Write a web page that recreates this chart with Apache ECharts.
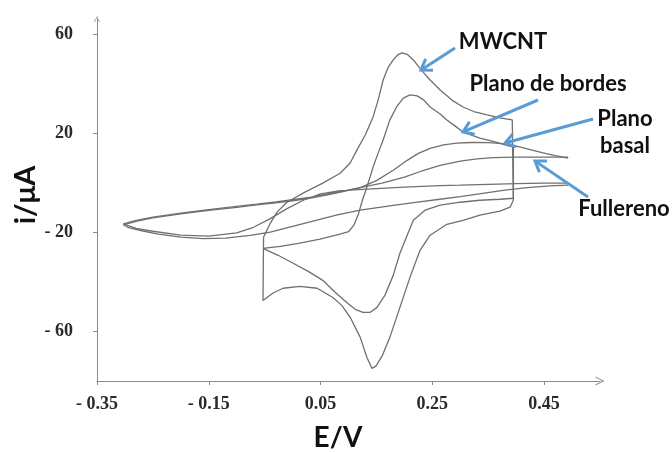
<!DOCTYPE html>
<html>
<head>
<meta charset="utf-8">
<script src="https://cdn.jsdelivr.net/npm/echarts@6/dist/echarts.min.js"></script>
<style>
  html, body { margin: 0; padding: 0; background: #fff; }
  #chart { width: 672px; height: 452px; }
</style>
</head>
<body>
<div id="chart"></div>
<script>
// Axis ticks (potential in V, current in µA)
const xTicks = [-0.35, -0.15, 0.05, 0.25, 0.45];
const yTicks = [-60, -20, 20, 60];

// Cyclic voltammograms, [E (V), i (µA)] around each closed loop
const mwcnt = [
  [-0.052, -22.0], [-0.040, -16.4], [-0.028, -11.9], [-0.010, -7.9], [0.022, -3.8],
  [0.054, -0.2], [0.085, 3.8], [0.103, 7.9], [0.115, 13.1], [0.130, 19.2],
  [0.144, 26.5], [0.153, 33.3], [0.162, 41.4], [0.171, 46.5], [0.180, 49.5],
  [0.188, 51.5], [0.196, 52.3], [0.206, 51.6], [0.216, 49.5], [0.230, 45.5],
  [0.246, 41.4], [0.264, 37.4], [0.285, 33.3], [0.305, 30.5], [0.326, 28.5],
  [0.348, 27.3], [0.371, 26.1], [0.393, 25.3],
  [0.395, -7.1], [0.389, -9.9], [0.371, -11.5], [0.335, -13.1], [0.305, -15.2],
  [0.276, -16.8], [0.246, -21.2], [0.228, -27.3], [0.210, -38.2], [0.192, -50.3],
  [0.174, -62.4], [0.160, -70.0], [0.149, -74.0], [0.142, -74.9], [0.133, -70.5],
  [0.121, -62.4], [0.103, -54.3], [0.088, -49.5], [0.072, -46.3], [0.044, -42.6],
  [0.013, -41.8], [-0.017, -42.6], [-0.035, -44.5], [-0.053, -47.5], [-0.052, -22.0]
];

const planoBordes = [
  [-0.053, -26.5], [-0.022, -25.7], [0.013, -24.4], [0.049, -22.8], [0.085, -20.8],
  [0.100, -19.8], [0.110, -17.0], [0.118, -12.5], [0.125, -7.0], [0.133, -1.8],
  [0.144, 6.3], [0.153, 11.9], [0.162, 17.2], [0.174, 25.3], [0.187, 30.9],
  [0.198, 34.1], [0.210, 35.4], [0.223, 35.0], [0.235, 33.3], [0.246, 30.5],
  [0.264, 27.7], [0.276, 25.3], [0.291, 22.8], [0.305, 20.4], [0.335, 18.0],
  [0.362, 16.4], [0.380, 15.2], [0.395, 14.3],
  [0.395, -6.3], [0.371, -6.7], [0.335, -7.1], [0.300, -7.9], [0.264, -9.1],
  [0.237, -11.1], [0.216, -15.2], [0.205, -21.2], [0.192, -28.5], [0.180, -37.4],
  [0.165, -45.5], [0.151, -50.3], [0.139, -52.3], [0.126, -52.3], [0.112, -51.1],
  [0.099, -48.7], [0.076, -44.2], [0.054, -39.4], [0.028, -35.8], [0.001, -32.5],
  [-0.026, -29.3], [-0.053, -26.5]
];

// Wide-window electrodes: forward (anodic) and reverse (cathodic) sweeps
const basalForward = [
  [-0.303, -17.0], [-0.28, -15.6], [-0.25, -14.2], [-0.20, -12.6], [-0.15, -11.2],
  [-0.10, -10.0], [-0.064, -9.0], [-0.03, -8.2], [0.00, -7.3], [0.03, -6.3],
  [0.06, -5.0], [0.09, -3.6], [0.121, -2.0], [0.15, 0.8], [0.18, 5.0],
  [0.205, 9.0], [0.225, 11.8], [0.246, 13.8], [0.27, 15.2], [0.294, 15.9],
  [0.32, 16.2], [0.35, 16.1], [0.377, 15.7], [0.395, 15.0], [0.42, 13.6],
  [0.448, 12.0], [0.47, 10.9], [0.493, 9.9]
];
const basalReverse = [
  [0.493, -1.0], [0.46, -1.3], [0.42, -2.0], [0.38, -3.0], [0.34, -4.3],
  [0.30, -5.6], [0.26, -6.8], [0.22, -8.0], [0.18, -9.2], [0.121, -11.1],
  [0.08, -13.0], [0.04, -15.3], [0.00, -17.6], [-0.04, -20.0], [-0.076, -21.3],
  [-0.12, -22.4], [-0.16, -22.6], [-0.20, -22.0], [-0.24, -20.8], [-0.27, -19.4],
  [-0.295, -18.0], [-0.303, -17.0]
];

const fullerenoForward = [
  [-0.303, -16.6], [-0.28, -15.2], [-0.25, -13.9], [-0.20, -12.3], [-0.15, -10.9],
  [-0.10, -9.6], [-0.064, -8.7], [-0.03, -7.8], [0.00, -6.9], [0.03, -5.9],
  [0.06, -4.7], [0.09, -3.4], [0.121, -2.0], [0.16, -0.2], [0.20, 2.2],
  [0.23, 4.6], [0.264, 7.0], [0.30, 8.7], [0.33, 9.6], [0.359, 10.1],
  [0.40, 10.3], [0.45, 10.3], [0.493, 10.3]
];
const fullerenoReverse = [
  [0.493, -0.2], [0.45, -0.2], [0.40, -0.4], [0.35, -0.7], [0.30, -1.0],
  [0.264, -1.2], [0.20, -1.8], [0.15, -2.4], [0.085, -3.2], [0.05, -4.5],
  [0.02, -7.0], [-0.01, -10.5], [-0.04, -14.5], [-0.07, -18.0], [-0.10, -20.3],
  [-0.15, -21.6], [-0.20, -21.2], [-0.25, -19.6], [-0.28, -18.4], [-0.303, -16.6]
];

// The wide-window traces are not joined at the positive switching potential
const gap = ['-', '-'];
const curves = [
  { name: 'MWCNT', data: mwcnt },
  { name: 'Plano de bordes', data: planoBordes },
  { name: 'Plano basal', data: basalForward.concat([gap], basalReverse) },
  { name: 'Fullereno', data: fullerenoForward.concat([gap], fullerenoReverse) }
];

const chart = echarts.init(document.getElementById('chart'), null, { renderer: 'canvas' });

const openArrow = 'path://M0,10 L5,0 L10,10 L8.8,10 L5,2.4 L1.2,10 Z';
const axisGray = '#8a8a8a';
const tickFont = { fontFamily: 'Liberation Serif', fontSize: 18, fontWeight: 'bold', color: '#2a2a2a' };

function signed(v, digits) {
  const s = Math.abs(v).toFixed(digits);
  return v < 0 ? '- ' + s : s;
}

// Blue callout arrows: straight shaft with an open head at the tip
const blue = '#5b9bd5';
function callout(tail, tip) {
  const dx = tip[0] - tail[0], dy = tip[1] - tail[1];
  const ang = Math.atan2(dy, dx);
  const L = 12, a = 0.6;
  const p1 = [tip[0] - L * Math.cos(ang - a), tip[1] - L * Math.sin(ang - a)];
  const p2 = [tip[0] - L * Math.cos(ang + a), tip[1] - L * Math.sin(ang + a)];
  return [
    { type: 'line', z: 20, shape: { x1: tail[0], y1: tail[1], x2: tip[0] - 2 * Math.cos(ang), y2: tip[1] - 2 * Math.sin(ang) },
      style: { stroke: blue, lineWidth: 3 } },
    { type: 'polyline', z: 20, shape: { points: [p1, tip, p2] },
      style: { stroke: blue, lineWidth: 3, fill: null, lineJoin: 'miter' } }
  ];
}

function label(text, x, y) {
  return { type: 'text', z: 21, x: x, y: y,
    style: { text: text, fontFamily: 'Lato', fontWeight: 'bold', fontSize: 22, fill: '#111',
             textAlign: 'center', textVerticalAlign: 'middle' } };
}

const graphics = [].concat(
  callout([455, 48], [421, 70]),
  callout([538, 100], [463, 132]),
  callout([593, 119], [505, 143]),
  callout([588, 197], [535, 161]),
  [
    label('MWCNT', 503, 42),
    label('Plano de bordes', 548, 84),
    label('Plano', 625, 119),
    label('basal', 625, 146),
    label('Fullereno', 624, 209),
    { type: 'text', z: 21, x: 26, y: 195, rotation: Math.PI / 2,
      style: { text: 'i/μA', fontFamily: 'Lato', fontWeight: 'bold', fontSize: 29, fill: '#111',
               textAlign: 'center', textVerticalAlign: 'middle' } },
    { type: 'text', z: 21, x: 338, y: 438,
      style: { text: 'E/V', fontFamily: 'Lato', fontWeight: 'bold', fontSize: 28, fill: '#111',
               textAlign: 'center', textVerticalAlign: 'middle' } }
  ]
);

chart.setOption({
  animation: false,
  backgroundColor: '#fff',
  grid: { left: 97, right: 72, top: 19, bottom: 71, containLabel: false },
  xAxis: {
    type: 'value', min: -0.35, max: 0.55,
    splitLine: { show: false },
    axisLine: { show: true, onZero: false, lineStyle: { color: axisGray, width: 1 },
                symbol: ['none', openArrow], symbolSize: [9, 9] },
    axisTick: { show: true, length: 4, customValues: xTicks, lineStyle: { color: axisGray } },
    axisLabel: Object.assign({ customValues: xTicks, margin: 14,
                formatter: v => signed(v, 2) }, tickFont)
  },
  yAxis: {
    type: 'value', min: -80, max: 66,
    splitLine: { show: false },
    axisLine: { show: true, onZero: false, lineStyle: { color: axisGray, width: 1 },
                symbol: ['none', openArrow], symbolSize: [6, 7] },
    axisTick: { show: true, length: 4, customValues: yTicks, lineStyle: { color: axisGray } },
    axisLabel: Object.assign({ customValues: yTicks, margin: 24,
                formatter: v => signed(v, 0) }, tickFont)
  },
  series: curves.map(c => ({
    name: c.name, type: 'line', data: c.data,
    showSymbol: false, smooth: false, clip: false, connectNulls: false,
    lineStyle: { color: '#707070', width: 1.3 }
  })),
  graphic: graphics
});
</script>
</body>
</html>
